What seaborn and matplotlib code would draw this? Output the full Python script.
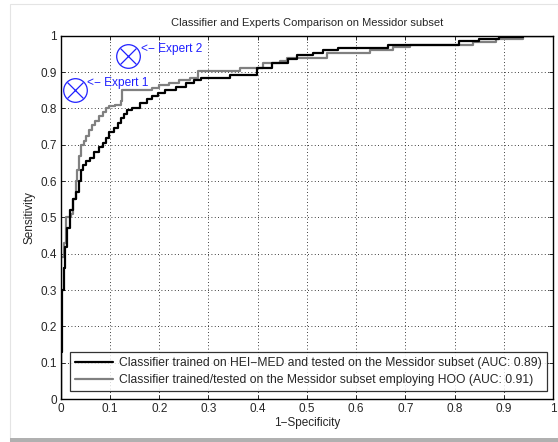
import matplotlib
matplotlib.use("Agg")
from matplotlib import pyplot as plt
from matplotlib.patches import Rectangle
import pandas as pd
import seaborn as sns

# ROC step corners: at each fpr the curve jumps up to tpr
hei_fpr = [0.0, 0.0, 0.003, 0.006, 0.009, 0.013, 0.018, 0.024, 0.030, 0.036, 0.040,
           0.046, 0.052, 0.060, 0.068, 0.078, 0.086, 0.092, 0.098, 0.108, 0.116,
           0.122, 0.128, 0.135, 0.145, 0.160, 0.175, 0.185, 0.198, 0.212, 0.235,
           0.255, 0.270, 0.285, 0.343, 0.398, 0.430, 0.462, 0.480, 0.512, 0.533,
           0.563, 0.665, 0.810, 0.850, 0.890, 0.940, 1.0]
hei_tpr = [0.0, 0.13, 0.30, 0.36, 0.42, 0.47, 0.52, 0.55, 0.57, 0.60, 0.63,
           0.645, 0.655, 0.665, 0.68, 0.695, 0.705, 0.72, 0.735, 0.745, 0.76,
           0.775, 0.785, 0.795, 0.80, 0.815, 0.825, 0.835, 0.842, 0.851, 0.86,
           0.87, 0.878, 0.884, 0.892, 0.911, 0.925, 0.935, 0.948, 0.953, 0.96,
           0.967, 0.975, 0.985, 0.99, 0.997, 1.0, 1.0]

hoo_fpr = [0.0, 0.0, 0.006, 0.010, 0.020, 0.025, 0.030, 0.033, 0.036, 0.040, 0.048,
           0.052, 0.058, 0.064, 0.070, 0.078, 0.085, 0.092, 0.098, 0.110, 0.122,
           0.124, 0.185, 0.200, 0.220, 0.240, 0.262, 0.278, 0.364, 0.410, 0.445,
           0.460, 0.540, 0.628, 0.675, 0.710, 0.837, 0.885, 0.940, 1.0]
hoo_tpr = [0.0, 0.39, 0.43, 0.50, 0.51, 0.55, 0.60, 0.63, 0.67, 0.70, 0.71,
           0.725, 0.74, 0.755, 0.765, 0.78, 0.79, 0.80, 0.808, 0.81, 0.82,
           0.85, 0.857, 0.865, 0.87, 0.879, 0.884, 0.902, 0.911, 0.925, 0.93,
           0.94, 0.953, 0.962, 0.97, 0.975, 0.984, 0.99, 1.0, 1.0]

expert_names = ["Expert 1", "Expert 2"]
expert_fpr = [0.028, 0.136]
expert_tpr = [0.851, 0.945]

labels = ["Classifier trained on HEI\u2212MED and tested on the Messidor subset (AUC: 0.89)",
          "Classifier trained/tested on the Messidor subset employing HOO (AUC: 0.91)"]

sns.set_style("white")
plt.rcParams['font.family'] = ['Liberation Sans', 'DejaVu Sans']

fig = plt.figure(figsize=(5.58, 4.42), dpi=100)
fig.patches.append(Rectangle((10 / 558, 0.0), 548 / 558, 438 / 442, transform=fig.transFigure,
                             fill=False, edgecolor='#e4e4e4', linewidth=0.8))
fig.patches.append(Rectangle((10 / 558, 0.0), 548 / 558, 4 / 442, transform=fig.transFigure,
                             facecolor='#b0b0b0', edgecolor='none'))
ax = fig.add_axes([0.109, 0.097, 0.882, 0.822])

hei = pd.DataFrame({'fpr': hei_fpr, 'tpr': hei_tpr})
hoo = pd.DataFrame({'fpr': hoo_fpr, 'tpr': hoo_tpr})
sns.lineplot(data=hei, x='fpr', y='tpr', ax=ax, color='black', linewidth=1.6,
             drawstyle='steps-post', estimator=None, sort=False, label=labels[0], zorder=3)
sns.lineplot(data=hoo, x='fpr', y='tpr', ax=ax, color='#808080', linewidth=1.6,
             drawstyle='steps-post', estimator=None, sort=False, label=labels[1], zorder=2)

blue = '#2020ff'
ax.plot(expert_fpr, expert_tpr, 'o', markersize=17, markerfacecolor='none',
        markeredgecolor=blue, markeredgewidth=0.9, zorder=4)
ax.plot(expert_fpr, expert_tpr, 'x', markersize=12, color=blue,
        markeredgewidth=0.9, zorder=4)
for name, x, y in zip(expert_names, expert_fpr, expert_tpr):
    ax.text(x + 0.026, y + 0.02, "<\u2212 " + name, color=blue, fontsize=8.6, va='center')

ax.set_xlim(0, 1)
ax.set_ylim(0, 1)
ax.set_xticks([i / 10 for i in range(11)])
ax.set_yticks([i / 10 for i in range(11)])
ax.set_xticklabels(['0'] + [f"{i / 10:g}" for i in range(1, 10)] + ['1'])
ax.set_yticklabels(['0'] + [f"{i / 10:g}" for i in range(1, 10)] + ['1'])
ax.tick_params(direction='in', length=3, width=0.7, labelsize=8.5, top=True, right=True,
               bottom=True, left=True, pad=3)
ax.grid(True, linestyle=(0, (1, 3)), color='black', linewidth=0.6)
for s in ax.spines.values():
    s.set_color('black')
    s.set_linewidth(1.0)

ax.set_xlabel("1\u2212Specificity", fontsize=8.5, labelpad=1)
ax.set_ylabel("Sensitivity", fontsize=8.5, labelpad=3)
ax.set_title("Classifier and Experts Comparison on Messidor subset", fontsize=8, pad=7)

leg = ax.legend(loc='lower left', bbox_to_anchor=(0.018, 0.022), fontsize=8.7,
                frameon=True, fancybox=False, handlelength=3.2, borderpad=0.4,
                labelspacing=0.45, handletextpad=0.5, borderaxespad=0.0)
leg.get_frame().set_edgecolor('black')
leg.get_frame().set_linewidth(0.9)

fig.savefig("out.png", dpi=100)
